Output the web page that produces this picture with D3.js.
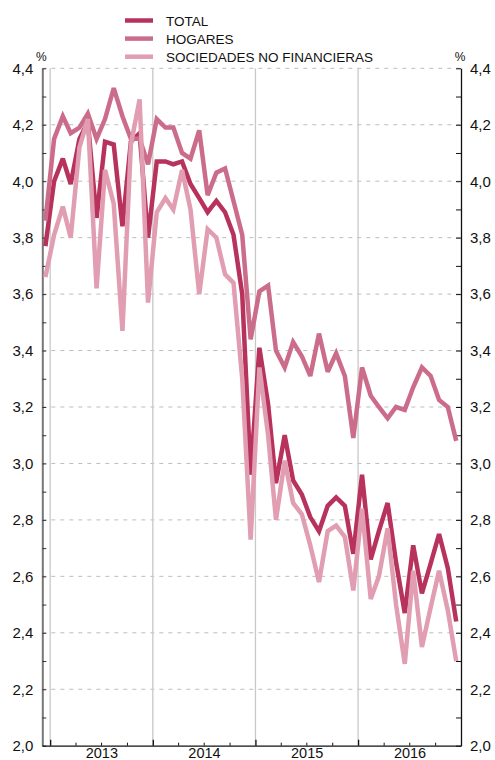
<!DOCTYPE html>
<html>
<head>
<meta charset="utf-8">
<script src="https://cdn.jsdelivr.net/npm/d3@7"></script>
<style>
  body { margin: 0; background: #fff; }
  svg { display: block; }
  text { font-family: "Liberation Sans", Arial, Helvetica, sans-serif; fill: #111; }
</style>
</head>
<body>
<svg id="chart" width="495" height="760"></svg>
<script>
// Monthly interest rates (%), Dec 2012 – Dec 2016
const months = [
  "2012-12",
  "2013-01","2013-02","2013-03","2013-04","2013-05","2013-06","2013-07","2013-08","2013-09","2013-10","2013-11","2013-12",
  "2014-01","2014-02","2014-03","2014-04","2014-05","2014-06","2014-07","2014-08","2014-09","2014-10","2014-11","2014-12",
  "2015-01","2015-02","2015-03","2015-04","2015-05","2015-06","2015-07","2015-08","2015-09","2015-10","2015-11","2015-12",
  "2016-01","2016-02","2016-03","2016-04","2016-05","2016-06","2016-07","2016-08","2016-09","2016-10","2016-11","2016-12"
];

const total = [
  3.77,
  4.00, 4.08, 3.99, 4.15, 4.21, 3.87, 4.14, 4.13, 3.84, 4.14, 4.17, 3.80,
  4.07, 4.07, 4.06, 4.07, 3.99, 3.94, 3.89, 3.93, 3.89, 3.81, 3.60, 2.96,
  3.41, 3.21, 2.93, 3.10, 2.94, 2.89, 2.81, 2.76, 2.85, 2.88, 2.85, 2.68,
  2.96, 2.66, 2.76, 2.86, 2.65, 2.47, 2.71, 2.54, 2.645, 2.75, 2.63, 2.44
];

const hogares = [
  3.86,
  4.15, 4.23, 4.17, 4.19, 4.24, 4.15, 4.22, 4.33, 4.23, 4.15, 4.15, 4.06,
  4.22, 4.19, 4.19, 4.10, 4.08, 4.18, 3.95, 4.03, 4.045, 3.93, 3.81, 3.44,
  3.61, 3.63, 3.40, 3.34, 3.43, 3.38, 3.31, 3.46, 3.325, 3.39, 3.31, 3.09,
  3.34, 3.24, 3.20, 3.16, 3.20, 3.19, 3.27, 3.34, 3.31, 3.225, 3.20, 3.08
];

const sociedades = [
  3.66,
  3.81, 3.91, 3.80, 4.12, 4.22, 3.62, 4.04, 3.92, 3.47, 4.13, 4.29, 3.57,
  3.89, 3.94, 3.90, 4.04, 3.90, 3.60, 3.83, 3.80, 3.67, 3.64, 3.30, 2.73,
  3.34, 3.10, 2.80, 3.01, 2.86, 2.82, 2.71, 2.58, 2.76, 2.78, 2.74, 2.55,
  2.84, 2.52, 2.60, 2.77, 2.50, 2.29, 2.62, 2.35, 2.49, 2.62, 2.48, 2.30
];

const seriesNames = ["TOTAL", "HOGARES", "SOCIEDADES NO FINANCIERAS"];
const seriesColors = ["#b7325c", "#cc6c8b", "#e19db2"];
const yearLabels = ["2013", "2014", "2015", "2016"];
const yGridValues = [2.2, 2.4, 2.6, 2.8, 3.0, 3.2, 3.4, 3.6, 3.8, 4.0, 4.2, 4.4];
const yTickValues = [2.0, 2.1, 2.2, 2.3, 2.4, 2.5, 2.6, 2.7, 2.8, 2.9, 3.0, 3.1, 3.2,
                     3.3, 3.4, 3.5, 3.6, 3.7, 3.8, 3.9, 4.0, 4.1, 4.2, 4.3, 4.4];
const yLabelValues = [2.0, 2.2, 2.4, 2.6, 2.8, 3.0, 3.2, 3.4, 3.6, 3.8, 4.0, 4.2, 4.4];

// plot frame
const plotLeft = 42.3, plotRight = 461, plotTop = 68.3, plotBottom = 745.7;

const svg = d3.select("#chart");

const parseMonth = s => {
  const [yy, mm] = s.split("-").map(Number);
  return new Date(yy, mm - 1, 15);
};
const dates = months.map(parseMonth);

const x = d3.scaleTime()
  .domain([new Date(2012, 11, 4), new Date(2017, 0, 1)])
  .range([plotLeft, plotRight]);

const y = d3.scaleLinear()
  .domain([2.0, 4.4])
  .range([plotBottom, plotTop]);

const fmt = v => d3.format(".1f")(v).replace(".", ",");
const isLabel = d => yLabelValues.some(v => Math.abs(v - d) < 1e-9);

const yearStarts = yearLabels.map(s => new Date(+s, 0, 1));
const yearMids = yearLabels.map(s => new Date(+s, 6, 2));
const quarterTicks = [];
yearLabels.forEach(s => [3, 6, 9].forEach(m => quarterTicks.push(new Date(+s, m, 1))));

// horizontal dashed gridlines
svg.append("g")
  .selectAll("line")
  .data(yGridValues)
  .join("line")
  .attr("x1", plotLeft).attr("x2", plotRight)
  .attr("y1", d => y(d)).attr("y2", d => y(d))
  .attr("stroke", "#bdbdbd")
  .attr("stroke-width", 1)
  .attr("stroke-dasharray", "4,5");

// vertical year separators
svg.append("g")
  .selectAll("line")
  .data(yearStarts)
  .join("line")
  .attr("x1", d => x(d)).attr("x2", d => x(d))
  .attr("y1", plotTop).attr("y2", plotBottom)
  .attr("stroke", "#c8c8c8")
  .attr("stroke-width", 1.3);

// left axis
const leftAxis = svg.append("g")
  .attr("transform", `translate(${plotLeft},0)`)
  .call(d3.axisLeft(y)
    .tickValues(yTickValues)
    .tickSize(-4)
    .tickSizeOuter(0)
    .tickPadding(9)
    .tickFormat(d => isLabel(d) ? fmt(d) : ""));
leftAxis.select(".domain").attr("stroke", "#777").attr("stroke-width", 2);
leftAxis.selectAll(".tick line").attr("stroke", "#333");
leftAxis.selectAll(".tick text").attr("font-size", 15).attr("fill", "#111")
  .attr("font-family", "Liberation Sans, Arial, sans-serif");

// right axis
const rightAxis = svg.append("g")
  .attr("transform", `translate(${plotRight},0)`)
  .call(d3.axisRight(y)
    .tickValues(yTickValues)
    .tickSize(-5)
    .tickSizeOuter(0)
    .tickPadding(9)
    .tickFormat(d => isLabel(d) ? fmt(d) : ""));
rightAxis.select(".domain").attr("stroke", "#111").attr("stroke-width", 1.3);
rightAxis.selectAll(".tick line").attr("stroke", "#111");
rightAxis.selectAll(".tick text").attr("font-size", 15).attr("fill", "#111")
  .attr("font-family", "Liberation Sans, Arial, sans-serif");

// bottom axis: quarter ticks, year ticks and year labels
const bAxisQ = svg.append("g")
  .attr("transform", `translate(0,${plotBottom})`)
  .call(d3.axisBottom(x).tickValues(quarterTicks).tickSize(-3).tickSizeOuter(0).tickFormat(""));
bAxisQ.select(".domain").attr("stroke", "#111").attr("stroke-width", 1.3);
bAxisQ.selectAll(".tick line").attr("stroke", "#111");

const bAxisY = svg.append("g")
  .attr("transform", `translate(0,${plotBottom})`)
  .call(d3.axisBottom(x).tickValues(yearStarts).tickSize(-6).tickSizeOuter(0).tickFormat(""));
bAxisY.select(".domain").remove();
bAxisY.selectAll(".tick line").attr("stroke", "#111").attr("stroke-width", 1.3);

const bAxisL = svg.append("g")
  .attr("transform", `translate(0,${plotBottom})`)
  .call(d3.axisBottom(x).tickValues(yearMids).tickSize(0).tickPadding(2.5)
    .tickFormat((d, i) => yearLabels[i]));
bAxisL.select(".domain").remove();
bAxisL.selectAll(".tick text").attr("font-size", 14.5).attr("fill", "#111")
  .attr("font-family", "Liberation Sans, Arial, sans-serif");

// unit labels
svg.append("text").attr("x", plotLeft - 1).attr("y", 61).attr("text-anchor", "middle")
  .attr("font-size", 12).text("%");
svg.append("text").attr("x", plotRight - 1).attr("y", 61).attr("text-anchor", "middle")
  .attr("font-size", 12).text("%");

// series lines
const seriesData = [total, hogares, sociedades];
const line = d3.line()
  .x((d, i) => x(dates[i]))
  .y(d => y(d))
  .curve(d3.curveLinear);

const drawOrder = [0, 1, 2];
svg.append("g")
  .selectAll("path")
  .data(drawOrder)
  .join("path")
  .attr("d", k => line(seriesData[k]))
  .attr("fill", "none")
  .attr("stroke", k => seriesColors[k])
  .attr("stroke-width", 4.5)
  .attr("stroke-linejoin", "miter")
  .attr("stroke-miterlimit", 3);

// legend
const legend = svg.append("g");
const legendY = d3.scalePoint().domain(seriesNames).range([20.5, 56.7]);
const items = legend.selectAll("g").data(seriesNames).join("g")
  .attr("transform", d => `translate(0,${legendY(d)})`);
items.append("line")
  .attr("x1", 125).attr("x2", 153).attr("y1", 0).attr("y2", 0)
  .attr("stroke", (d, i) => seriesColors[i]).attr("stroke-width", 4.5);
items.append("text")
  .attr("x", 166).attr("y", 5.2)
  .attr("font-size", 13.5)
  .text(d => d);
</script>
</body>
</html>
